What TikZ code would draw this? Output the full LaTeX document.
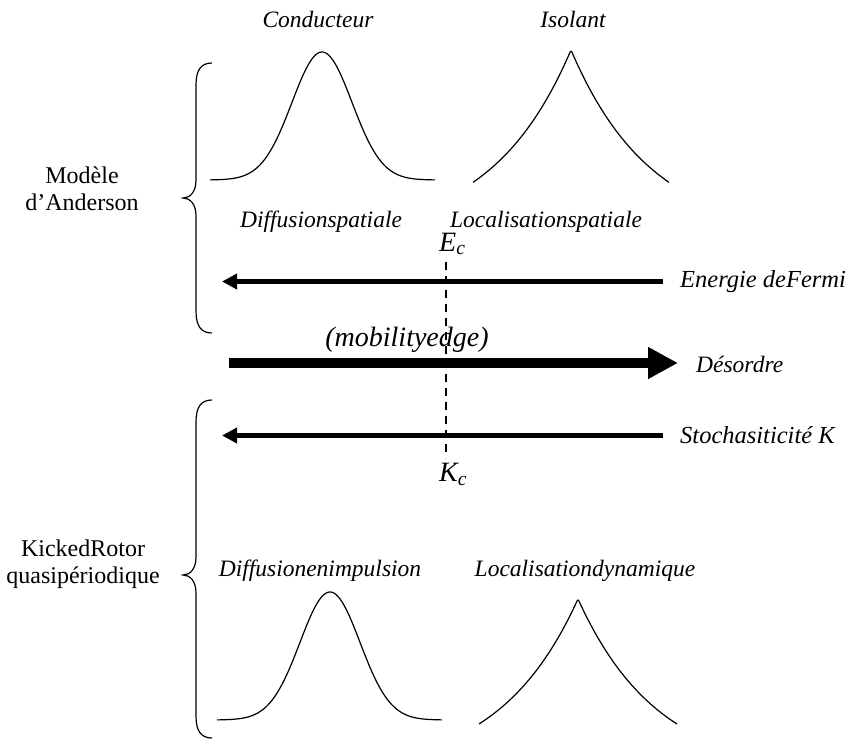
\documentclass[tikz,border=0pt]{standalone}
\usepackage{fontspec}
\setmainfont{Liberation Serif}
\usetikzlibrary{arrows.meta}
\begin{document}
\begin{tikzpicture}[x=1pt,y=-1pt,
  lbl/.style={font=\fontsize{23.5}{28}\selectfont\itshape, inner sep=0pt},
  rlbl/.style={font=\fontsize{24.5}{28}\selectfont\itshape, inner sep=0pt, anchor=west},
  big/.style={font=\fontsize{28}{32}\selectfont\itshape, inner sep=0pt},
  side/.style={font=\fontsize{24}{27.5}\selectfont, align=center, inner sep=0pt},
  thinarrow/.style={line width=5pt, -{Triangle[length=15pt,width=15pt]}},
  thickarrow/.style={line width=10pt, -{Triangle[length=30pt,width=30pt]}},
  curve/.style={line width=1.2pt},
  bracestyle/.style={line width=1.2pt},
  crit/.style={line width=2pt, dash pattern=on 8pt off 6pt}]
\useasboundingbox (0,0) rectangle (847,739);

% top titles
\node[lbl] (cond) at (318,19) {Conducteur};
\node[lbl] (isol) at (573,19) {Isolant};

% top curves
\draw[curve] plot[domain=210:435, samples=120] (\x, {180-128*exp(-((\x-322)^2)/1800)});
\draw[curve] plot[domain=473:669, samples=160] (\x, {50+187.4*(1-exp(-abs(\x-571)/80))});

% upper brace
\draw[bracestyle] (212,63) .. controls (201,63) and (196,70) .. (196,85) -- (196,180)
  .. controls (196,192) and (190,198) .. (183,198)
  .. controls (190,198) and (196,204) .. (196,216) -- (196,311)
  .. controls (196,326) and (201,333) .. (212,333);
\node[side] (anderson) at (82,189) {Modèle\\d’Anderson};

% spatial labels
\node[lbl] (diffsp) at (321,222) {Diffusionspatiale};
\node[lbl] (locsp) at (546,222) {Localisationspatiale};
\node[big, anchor=base west] (ec) at (439,251) {E\textsubscript{c}};

% Fermi arrow
\coordinate (fs) at (663,281.5);
\coordinate (fe) at (222,281.5);
\draw[thinarrow] (fs) -- (fe);
\node[rlbl] (fermi) at (680,281.5) {Energie deFermi};

% mobility edge
\node[big] (mob) at (407,340) {(mobilityedge)};

% disorder arrow
\coordinate (ds) at (229,363);
\coordinate (de) at (678,363);
\draw[thickarrow] (ds) -- (de);
\node[lbl, anchor=west] (desordre) at (696,364) {Désordre};

% dashed critical line
\coordinate (ctop) at (446,262);
\coordinate (cbot) at (446,458);
\draw[crit] (ctop) -- (cbot);

% K arrow
\coordinate (ks) at (663,435.5);
\coordinate (ke) at (222,435.5);
\draw[thinarrow] (ks) -- (ke);
\node[rlbl] (stoch) at (680,435.5) {Stochasiticité K};
\node[big, anchor=north west] (kc) at (439,463) {K\textsubscript{c}};

% lower brace
\draw[bracestyle] (212,400) .. controls (201,400) and (196,407) .. (196,422) -- (196,557)
  .. controls (196,569) and (190,575) .. (183,575)
  .. controls (190,575) and (196,581) .. (196,593) -- (196,716)
  .. controls (196,731) and (201,738) .. (212,738);
\node[side] (kicked) at (83,564) {KickedRotor\\quasipériodique};

% bottom labels
\node[lbl] (diffimp) at (320,571) {Diffusionenimpulsion};
\node[lbl] (locdyn) at (585,571) {Localisationdynamique};

% bottom curves
\draw[curve] plot[domain=217:442, samples=120] (\x, {720-128*exp(-((\x-330)^2)/1800)});
\draw[curve] plot[domain=479:677, samples=160] (\x, {599+176.1*(1-exp(-abs(\x-578)/80))});
\end{tikzpicture}
\end{document}
